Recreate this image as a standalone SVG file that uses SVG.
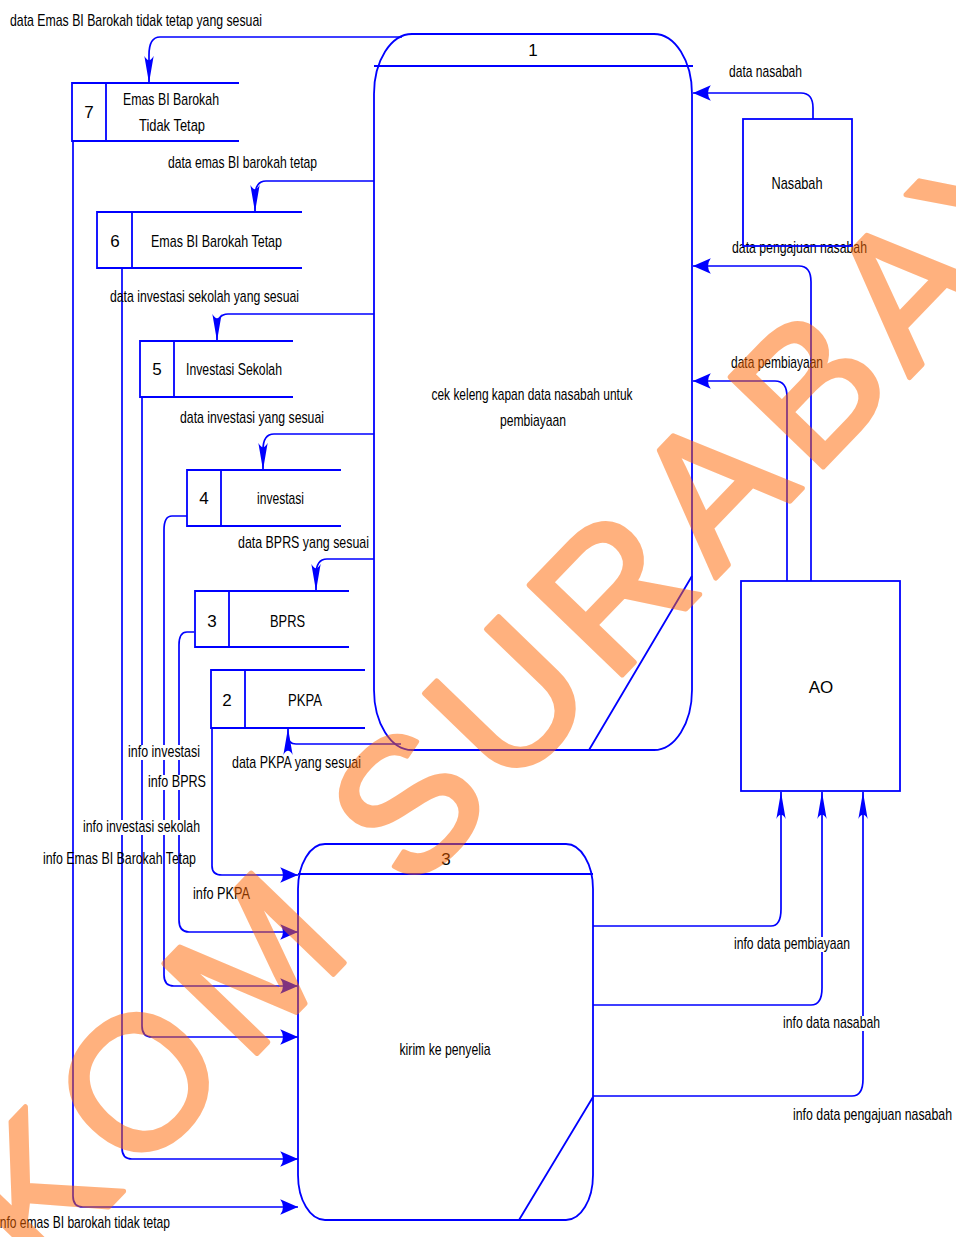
<svg xmlns="http://www.w3.org/2000/svg" width="956" height="1237" viewBox="0 0 956 1237">
<style>
.ln{fill:none;stroke:#0000FF;stroke-width:1.7}
.bx{fill:none;stroke:#0000FF;stroke-width:1.8}
.t{font-family:"Liberation Sans Narrow","Liberation Sans",Arial,sans-serif;font-size:17px;fill:#000}
.c{text-anchor:middle}
.bg{fill:#fff}
.wm{font-family:"Liberation Sans",Arial,sans-serif;font-size:188px;fill:#FF6600;stroke:#FF6600;stroke-width:5;stroke-linejoin:round;opacity:0.5}
</style>
<defs>
<marker id="ah" markerUnits="userSpaceOnUse" markerWidth="20" markerHeight="20" viewBox="-17 -8 18 16" refX="0" refY="0" orient="auto" overflow="visible">
<path d="M0,0 L-16,-7 Q-11,0 -16,7 Z" fill="#0000FF"/>
</marker>
<marker id="av" markerUnits="userSpaceOnUse" markerWidth="30" markerHeight="12" viewBox="-28 -5 29 10" refX="0" refY="0" orient="auto" overflow="visible">
<path d="M0,0 L-26,-4.5 Q-18,0 -26,4.5 Z" fill="#0000FF"/>
</marker>
</defs>
<rect width="956" height="1237" fill="#fff"/>

<g id="connectors">
<path class="ln" d="M402,37 H160 Q149,37 149,55 V83" marker-end="url(#av)"/>
<path class="ln" d="M374,181 H266 Q255,181 255,197 V212" marker-end="url(#av)"/>
<path class="ln" d="M374,314 H228 Q217,314 217,329 V341" marker-end="url(#av)"/>
<path class="ln" d="M374,434 H274 Q263,434 263,450 V470" marker-end="url(#av)"/>
<path class="ln" d="M374,559 H327 Q316,559 316,575 V591" marker-end="url(#av)"/>
<path class="ln" d="M401,744 H296 Q288,744 288,736 V728" marker-end="url(#av)"/>
<path class="ln" d="M813,119 V108 Q813,93 801,93 H693" marker-end="url(#ah)"/>
<path class="ln" d="M811,581 V282 Q811,266 799,266 H693" marker-end="url(#ah)"/>
<path class="ln" d="M787,581 V397 Q787,381 775,381 H693" marker-end="url(#ah)"/>
<path class="ln" d="M593,926 H771 Q781,926 781,909 V792" marker-end="url(#av)"/>
<path class="ln" d="M593,1005 H811 Q822,1005 822,988 V792" marker-end="url(#av)"/>
<path class="ln" d="M593,1096 H852 Q863,1096 863,1079 V792" marker-end="url(#av)"/>
<path class="ln" d="M212,728 V866 Q212,875 222,875 H298" marker-end="url(#ah)"/>
<path class="ln" d="M194,632 H187 Q179,632 179,645 V920 Q179,932 189,932 H298" marker-end="url(#ah)"/>
<path class="ln" d="M187,516 H172 Q164,516 164,530 V975 Q164,986 174,986 H298" marker-end="url(#ah)"/>
<path class="ln" d="M142,397 V1026 Q142,1037 152,1037 H298" marker-end="url(#ah)"/>
<path class="ln" d="M122,268 V1148 Q122,1159 132,1159 H298" marker-end="url(#ah)"/>
<path class="ln" d="M73,141 V1196 Q73,1207 83,1207 H298" marker-end="url(#ah)"/>
</g>

<g id="labels">
<text class="t" x="10" y="26" textLength="252" lengthAdjust="spacingAndGlyphs">data Emas BI Barokah tidak tetap yang sesuai</text>
<text class="t" x="168" y="168" textLength="149" lengthAdjust="spacingAndGlyphs">data emas BI barokah tetap</text>
<text class="t" x="110" y="302" textLength="189" lengthAdjust="spacingAndGlyphs">data investasi sekolah yang sesuai</text>
<text class="t" x="180" y="423" textLength="144" lengthAdjust="spacingAndGlyphs">data investasi yang sesuai</text>
<text class="t" x="238" y="548" textLength="131" lengthAdjust="spacingAndGlyphs">data BPRS yang sesuai</text>
<text class="t" x="232" y="768" textLength="129" lengthAdjust="spacingAndGlyphs">data PKPA yang sesuai</text>
<rect class="bg" x="127" y="745" width="74" height="15"/>
<text class="t" x="128" y="757" textLength="72" lengthAdjust="spacingAndGlyphs">info investasi</text>
<rect class="bg" x="147" y="775" width="60" height="15"/>
<text class="t" x="148" y="787" textLength="58" lengthAdjust="spacingAndGlyphs">info BPRS</text>
<rect class="bg" x="82" y="820" width="119" height="15"/>
<text class="t" x="83" y="832" textLength="117" lengthAdjust="spacingAndGlyphs">info investasi sekolah</text>
<text class="t" x="43" y="864" textLength="153" lengthAdjust="spacingAndGlyphs">info Emas BI Barokah Tetap</text>
<text class="t" x="193" y="899" textLength="57" lengthAdjust="spacingAndGlyphs">info PKPA</text>
<text class="t" x="-3" y="1228" textLength="173" lengthAdjust="spacingAndGlyphs">info emas BI barokah tidak tetap</text>
<text class="t" x="729" y="77" textLength="73" lengthAdjust="spacingAndGlyphs">data nasabah</text>
<text class="t" x="732" y="253" textLength="135" lengthAdjust="spacingAndGlyphs">data pengajuan nasabah</text>
<text class="t" x="731" y="368" textLength="92" lengthAdjust="spacingAndGlyphs">data pembiayaan</text>
<rect class="bg" x="733" y="937" width="118" height="15"/>
<text class="t" x="734" y="949" textLength="116" lengthAdjust="spacingAndGlyphs">info data pembiayaan</text>
<rect class="bg" x="782" y="1016" width="99" height="15"/>
<text class="t" x="783" y="1028" textLength="97" lengthAdjust="spacingAndGlyphs">info data nasabah</text>
<text class="t" x="793" y="1120" textLength="159" lengthAdjust="spacingAndGlyphs">info data pengajuan nasabah</text>
</g>

<g id="process1">
<path class="bx" d="M374,94 A38,60 0 0 1 412,34 H654 A38,60 0 0 1 692,94 V690 A38,60 0 0 1 654,750 H412 A38,60 0 0 1 374,690 Z"/>
<path class="bx" d="M374,66 H693 M692,576 L589,750"/>
<text class="t c" x="533" y="56">1</text>
<text class="t c" x="532" y="400" textLength="201" lengthAdjust="spacingAndGlyphs">cek keleng kapan data nasabah untuk</text>
<text class="t c" x="533" y="426" textLength="66" lengthAdjust="spacingAndGlyphs">pembiayaan</text>
</g>

<g id="process3">
<path class="bx" d="M298,889 A27,45 0 0 1 325,844 H566 A27,45 0 0 1 593,889 V1175 A27,45 0 0 1 566,1220 H325 A27,45 0 0 1 298,1175 Z"/>
<path class="bx" d="M298,874 H593 M593,1097 L519,1220"/>
<text class="t c" x="446" y="865">3</text>
<text class="t c" x="445" y="1055" textLength="91" lengthAdjust="spacingAndGlyphs">kirim ke penyelia</text>
</g>

<g id="nasabah">
<rect class="bx" x="743" y="119" width="109" height="127"/>
<text class="t c" x="797" y="189" textLength="51" lengthAdjust="spacingAndGlyphs">Nasabah</text>
</g>

<g id="ao">
<rect class="bx" x="741" y="581" width="159" height="210"/>
<text class="t c" x="821" y="693">AO</text>
</g>

<g id="store7">
<path class="bx" d="M239,83 H72 V141 H239 M106,83 V141"/>
<text class="t c" x="89" y="118">7</text>
<text class="t c" x="171" y="105" textLength="96" lengthAdjust="spacingAndGlyphs">Emas BI Barokah</text>
<text class="t c" x="172" y="131" textLength="66" lengthAdjust="spacingAndGlyphs">Tidak Tetap</text>
</g>

<g id="store6">
<path class="bx" d="M302,212 H97 V268 H302 M132,212 V268"/>
<text class="t c" x="115" y="247">6</text>
<text class="t c" x="216.5" y="247" textLength="131" lengthAdjust="spacingAndGlyphs">Emas BI Barokah Tetap</text>
</g>

<g id="store5">
<path class="bx" d="M293,341 H140 V397 H293 M174,341 V397"/>
<text class="t c" x="157" y="375">5</text>
<text class="t c" x="234" y="375" textLength="96" lengthAdjust="spacingAndGlyphs">Investasi Sekolah</text>
</g>

<g id="store4">
<path class="bx" d="M341,470 H187 V526 H341 M221,470 V526"/>
<text class="t c" x="204" y="504">4</text>
<text class="t c" x="280.5" y="504" textLength="47" lengthAdjust="spacingAndGlyphs">investasi</text>
</g>

<g id="store3">
<path class="bx" d="M349,591 H195 V647 H349 M229,591 V647"/>
<text class="t c" x="212" y="627">3</text>
<text class="t c" x="287.5" y="627" textLength="35" lengthAdjust="spacingAndGlyphs">BPRS</text>
</g>

<g id="store2">
<path class="bx" d="M365,670 H211 V728 H365 M245,670 V728"/>
<text class="t c" x="227" y="706">2</text>
<text class="t c" x="305" y="706" textLength="34" lengthAdjust="spacingAndGlyphs">PKPA</text>
</g>

<text class="wm" transform="translate(38,1280) rotate(-46)" letter-spacing="14">KOM SURABAYA</text>
</svg>
